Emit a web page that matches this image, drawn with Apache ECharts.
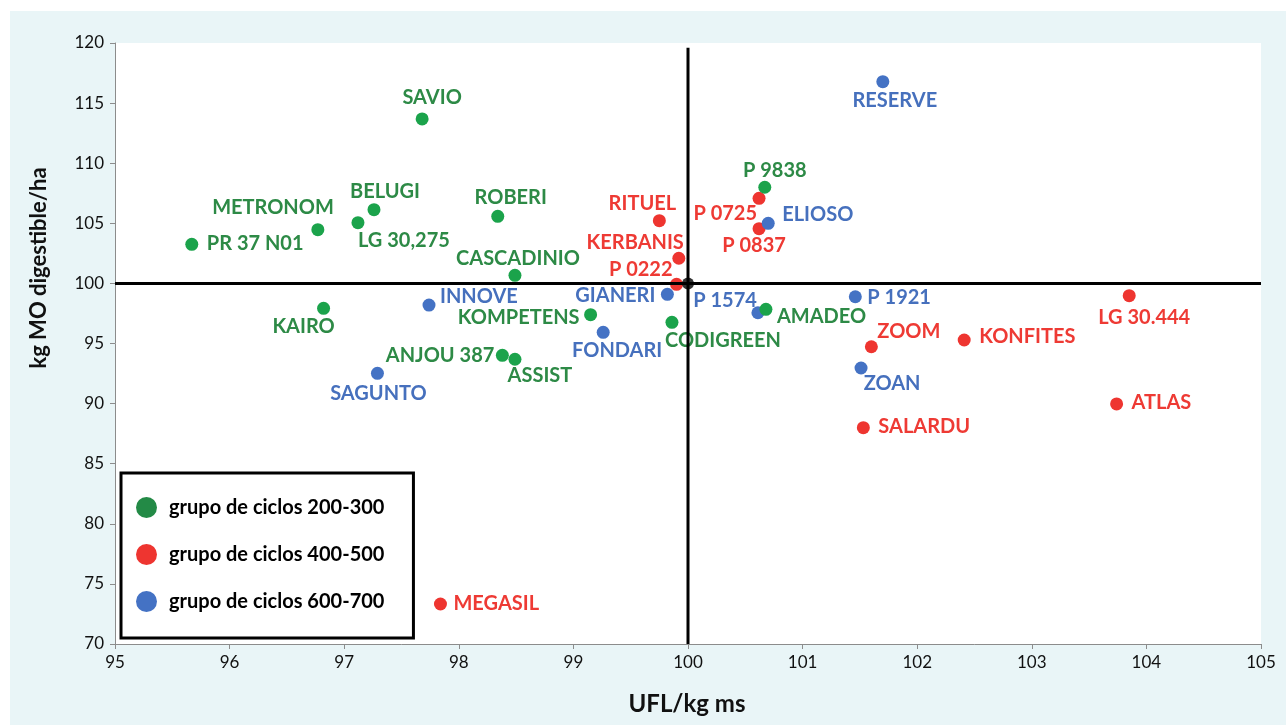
<!DOCTYPE html>
<html>
<head>
<meta charset="utf-8">
<title>UFL y MO digestible por variedad</title>
<script src="https://cdn.jsdelivr.net/npm/echarts@6/dist/echarts.min.js"></script>
<style>
  html, body { margin: 0; padding: 0; background: #ffffff; }
  #chart { width: 1286px; height: 725px; }
</style>
</head>
<body>
<div id="chart"></div>
<script>
// Grupo de ciclos 200-300
const greenNames = ['SAVIO', 'METRONOM', 'PR 37 N01', 'LG 30,275', 'BELUGI', 'ROBERI', 'CASCADINIO',
  'KAIRO', 'KOMPETENS', 'ANJOU 387', 'ASSIST', 'CODIGREEN', 'P 9838', 'AMADEO'];
const greenUfl = [97.68, 96.77, 95.67, 97.12, 97.26, 98.34, 98.49, 96.82, 99.15, 98.38, 98.49, 99.86, 100.67, 100.68];
const greenMo = [113.68, 104.47, 103.25, 105.05, 106.13, 105.58, 100.67, 97.93, 97.40, 94.02, 93.69, 96.76, 108.0, 97.84];

// Grupo de ciclos 400-500
const redNames = ['RITUEL', 'KERBANIS', 'P 0222', 'P 0725', 'P 0837', 'ZOOM', 'KONFITES', 'LG 30.444',
  'ATLAS', 'SALARDU', 'MEGASIL'];
const redUfl = [99.75, 99.92, 99.90, 100.62, 100.62, 101.60, 102.41, 103.85, 103.74, 101.53, 97.84];
const redMo = [105.22, 102.09, 99.92, 107.08, 104.55, 94.73, 95.29, 98.98, 89.97, 88.0, 73.33];

// Grupo de ciclos 600-700
const blueNames = ['RESERVE', 'ELIOSO', 'GIANERI', 'P 1574', 'P 1921', 'ZOAN', 'INNOVE', 'FONDARI', 'SAGUNTO'];
const blueUfl = [101.70, 100.70, 99.82, 100.61, 101.46, 101.51, 97.74, 99.26, 97.29];
const blueMo = [116.78, 105.0, 99.09, 97.56, 98.89, 92.96, 98.20, 95.93, 92.52];

// Reference values (crosshair)
const refUfl = 100;
const refMo = 100;

// Axis ranges and tick steps
const uflMin = 95, uflMax = 105, uflStep = 1;
const moMin = 70, moMax = 120, moStep = 5;

const groupNames = ['grupo de ciclos 200-300', 'grupo de ciclos 400-500', 'grupo de ciclos 600-700'];

// Label placement per variety: [text align, dx, dy] measured from the dot centre
const labelPlace = {
  'SAVIO': ['center', 10, -21], 'METRONOM': ['right', 16, -22], 'PR 37 N01': ['left', 15, -1],
  'LG 30,275': ['left', 0, 18], 'BELUGI': ['center', 11, -18], 'ROBERI': ['center', 13, -19],
  'CASCADINIO': ['center', 3, -17], 'KAIRO': ['center', -20, 18], 'KOMPETENS': ['right', -11, 3],
  'ANJOU 387': ['right', -8, 0], 'ASSIST': ['center', 25, 16], 'CODIGREEN': ['left', -7, 18],
  'P 9838': ['center', 10, -17], 'AMADEO': ['left', 11, 7],
  'RITUEL': ['center', -17, -17], 'KERBANIS': ['right', 5, -16], 'P 0222': ['right', -4, -15],
  'P 0725': ['right', -2, 15], 'P 0837': ['center', -5, 17], 'ZOOM': ['left', 6, -15],
  'KONFITES': ['left', 15, -3], 'LG 30.444': ['center', 15, 22], 'ATLAS': ['left', 15, -1],
  'SALARDU': ['left', 15, -1], 'MEGASIL': ['left', 13, 0],
  'RESERVE': ['center', 12, 19], 'ELIOSO': ['left', 14, -9], 'GIANERI': ['right', -12, 1],
  'P 1574': ['right', -1, -12], 'P 1921': ['left', 12, 1], 'ZOAN': ['center', 31, 16],
  'INNOVE': ['left', 11, -8], 'FONDARI': ['center', 14, 18], 'SAGUNTO': ['center', 1, 20]
};

const FONT = 'Lato, "Open Sans", sans-serif';

function buildPoints(names, ufl, mo, textColor) {
  return names.map((n, i) => {
    const p = labelPlace[n] || ['left', 10, 0];
    return {
      name: n,
      value: [ufl[i], mo[i]],
      label: {
        show: true,
        position: 'inside',
        align: p[0],
        verticalAlign: 'middle',
        offset: [p[1], p[2]],
        formatter: '{b}',
        color: textColor,
        fontFamily: FONT,
        fontWeight: 'bold',
        fontSize: 20
      }
    };
  });
}

function scatterSeries(name, names, ufl, mo, dotColor, textColor, z) {
  return {
    name: name,
    type: 'scatter',
    symbol: 'circle',
    symbolSize: 13,
    z: z,
    itemStyle: { color: dotColor, opacity: 1 },
    emphasis: { disabled: true },
    data: buildPoints(names, ufl, mo, textColor)
  };
}

const chart = echarts.init(document.getElementById('chart'), null, { renderer: 'canvas' });

const axisGrey = '#8c8c8c';

chart.setOption({
  animation: false,
  backgroundColor: '#ffffff',
  textStyle: { fontFamily: FONT },
  graphic: [
    {
      type: 'rect', z: -100,
      shape: { x: 10, y: 11, width: 1276, height: 714 },
      style: { fill: '#e9f5f7' }
    },
    {
      type: 'text', x: 39, y: 268, rotation: Math.PI / 2,
      style: {
        text: 'kg MO digestible/ha', fill: '#111', font: 'bold 22px ' + FONT,
        align: 'center', verticalAlign: 'middle'
      }
    },
    {
      type: 'text', x: 687, y: 704,
      style: {
        text: 'UFL/kg ms', fill: '#111', font: 'bold 24px ' + FONT,
        align: 'center', verticalAlign: 'middle'
      }
    }
  ],
  grid: {
    left: 115, right: 25, top: 43, bottom: 81,
    show: true, backgroundColor: '#ffffff', borderWidth: 0
  },
  legend: {
    data: [
      { name: groupNames[0], itemStyle: { color: '#238a46' } },
      { name: groupNames[1], itemStyle: { color: '#ee3530' } },
      { name: groupNames[2], itemStyle: { color: '#4472c4' } }
    ],
    orient: 'vertical',
    left: 121, top: 473,
    padding: [24, 29, 26, 15],
    itemGap: 26,
    itemWidth: 21, itemHeight: 21,
    icon: 'circle',
    backgroundColor: '#ffffff',
    borderColor: '#000000',
    borderWidth: 3,
    selectedMode: false,
    textStyle: {
      fontFamily: FONT, fontWeight: 'bold', fontSize: 20, color: '#000',
      padding: [0, 0, 0, 7]
    }
  },
  xAxis: {
    type: 'value', min: uflMin, max: uflMax, interval: uflStep,
    splitLine: { show: false },
    axisLine: { show: true, onZero: false, lineStyle: { color: axisGrey, width: 1 } },
    axisTick: { show: true, length: 5, lineStyle: { color: axisGrey } },
    axisLabel: { fontFamily: FONT, fontSize: 17, color: '#111', margin: 10 }
  },
  yAxis: {
    type: 'value', min: moMin, max: moMax, interval: moStep,
    splitLine: { show: false },
    axisLine: { show: true, onZero: false, lineStyle: { color: axisGrey, width: 1 } },
    axisTick: { show: true, length: 5, lineStyle: { color: axisGrey } },
    axisLabel: { fontFamily: FONT, fontSize: 17, color: '#111', margin: 11 }
  },
  series: [
    scatterSeries(groupNames[0], greenNames, greenUfl, greenMo, '#1ba34b', '#2d8a46', 4),
    scatterSeries(groupNames[1], redNames, redUfl, redMo, '#ee3530', '#ee3a34', 2),
    scatterSeries(groupNames[2], blueNames, blueUfl, blueMo, '#4472c4', '#4670bd', 3),
    {
      // horizontal reference line at MO = 100
      type: 'line', silent: true, z: 10, symbol: 'none', clip: false,
      lineStyle: { color: '#000', width: 3 },
      data: [[uflMin, refMo], [uflMax, refMo]]
    },
    {
      // vertical reference line at UFL = 100
      type: 'line', silent: true, z: 10, symbol: 'none',
      lineStyle: { color: '#000', width: 3 },
      data: [[refUfl, moMin], [refUfl, 119.6]]
    },
    {
      type: 'scatter', silent: true, z: 11, symbolSize: 12,
      itemStyle: { color: '#000' },
      data: [[refUfl, refMo]]
    }
  ]
});
</script>
</body>
</html>
